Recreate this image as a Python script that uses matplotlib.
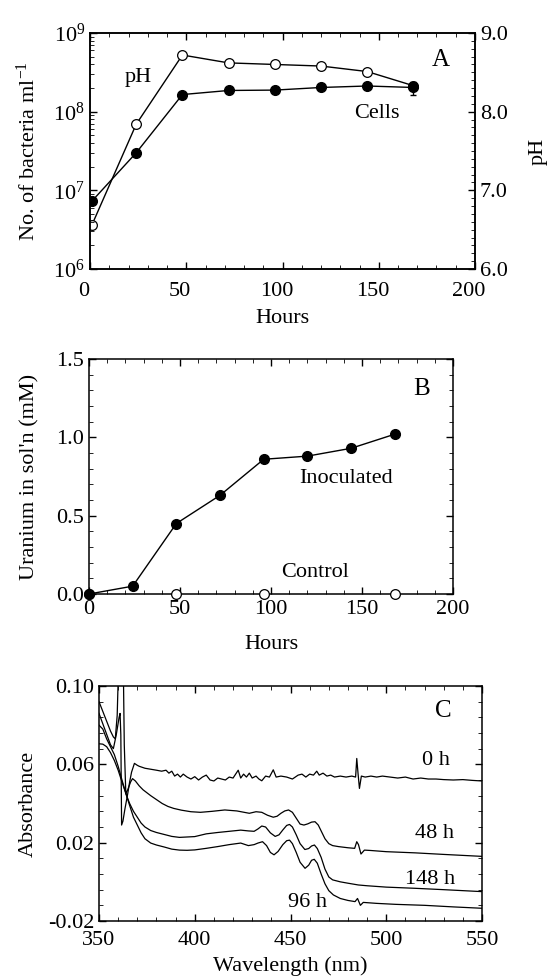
import matplotlib.pyplot as plt
import matplotlib.transforms as mtransforms
from matplotlib.ticker import (MultipleLocator, AutoMinorLocator, FormatStrFormatter, LogLocator,
                               NullFormatter, FixedLocator)

# Panel A: growth and pH
hours_a = [1, 24, 48, 72, 96, 120, 144, 168]
cells = [7.3e6, 3.0e7, 1.65e8, 1.86e8, 1.88e8, 2.03e8, 2.12e8, 2.03e8]
cells_err = [0, 0, 0, 0, 0, 0, 0, 0.38e8]
ph = [6.56, 7.84, 8.72, 8.62, 8.60, 8.58, 8.51, 8.33]

# Panel B: uranium in solution
hours_b = [0, 24, 48, 72, 96, 120, 144, 168]
uranium_inoc = [0.0, 0.05, 0.45, 0.63, 0.86, 0.88, 0.93, 1.02]
hours_ctrl = [0, 48, 96, 168]
uranium_ctrl = [0.0, 0.0, 0.0, 0.0]

# Panel C: spectra (wavelength nm, absorbance)
spec_0h = [(350, 0.086), (353, 0.078), (356, 0.070), (357.5, 0.068), (359, 0.075), (360.5, 0.084),
           (361, 0.086), (361.4, 0.075), (361.8, 0.029), (362.5, 0.031), (363.5, 0.037), (365, 0.045),
           (366, 0.051), (367, 0.056), (368.5, 0.0605), (370, 0.0595), (371, 0.059), (374, 0.058),
           (377, 0.0575), (380, 0.057), (382.7, 0.0565), (385, 0.057), (386.5, 0.0555), (388, 0.0565),
           (389.5, 0.054), (391, 0.055), (392.5, 0.0535), (394, 0.055), (396, 0.0535), (398, 0.0525),
           (400, 0.0537), (402, 0.052), (404, 0.0535), (406, 0.0545), (408, 0.052), (410, 0.0515),
           (412, 0.053), (414, 0.0525), (416, 0.052), (418, 0.0535), (420, 0.053), (422.7, 0.057),
           (424, 0.053), (425.5, 0.055), (427, 0.0535), (428.5, 0.0555), (430, 0.053), (432, 0.054),
           (433.5, 0.0525), (435, 0.0516), (437, 0.054), (439, 0.0535), (441, 0.0572), (442.5, 0.0535),
           (445, 0.054), (448, 0.0535), (451, 0.0525), (454, 0.0545), (456, 0.055), (458, 0.0535),
           (460, 0.055), (462, 0.0545), (463.7, 0.0565), (465, 0.0545), (467, 0.0555), (469, 0.054),
           (471, 0.0545), (473, 0.0535), (476, 0.054), (479, 0.0535), (482, 0.054), (484, 0.0535),
           (484.6, 0.063), (485.3, 0.055), (486, 0.0477), (487, 0.054), (489, 0.0535), (492, 0.054),
           (495, 0.0535), (498, 0.054), (502, 0.0535), (506, 0.053), (510, 0.0535), (514, 0.0525),
           (518, 0.053), (522, 0.0525), (526, 0.0525), (530, 0.0522), (535, 0.052), (540, 0.0522),
           (545, 0.0518), (550, 0.0515)]
spec_48h = [(350, 0.092), (352, 0.087), (354, 0.082), (356, 0.077), (357.5, 0.074), (358.5, 0.073),
            (359.5, 0.085), (360.2, 0.11), (361.5, 0.15), (362.7, 0.11), (363.2, 0.07), (364, 0.045),
            (365, 0.047), (366.5, 0.051), (367.5, 0.0527), (369, 0.0515), (371, 0.049), (373, 0.047),
            (375, 0.0455), (377, 0.044), (380, 0.042), (383, 0.040), (386, 0.0385), (389, 0.0375),
            (393, 0.0366), (398, 0.0358), (403, 0.0355), (409, 0.036), (415.7, 0.0367), (422, 0.0362),
            (428.5, 0.035), (432, 0.0358), (435, 0.0355), (438, 0.034), (441, 0.033), (443, 0.0335),
            (445, 0.035), (447, 0.0362), (449, 0.0367), (451, 0.0355), (453, 0.0325), (455, 0.0295),
            (457, 0.029), (459, 0.0296), (461, 0.0305), (462.8, 0.0307), (464.5, 0.029), (466, 0.026),
            (468, 0.022), (470, 0.0195), (472, 0.0185), (475, 0.018), (480, 0.0174), (483.5, 0.0171),
            (484.6, 0.0205), (485.5, 0.019), (486.8, 0.0142), (488.6, 0.0162), (492, 0.016),
            (500, 0.0154), (515, 0.0148), (530, 0.014), (550, 0.013)]
spec_96h = [(350, 0.080), (352, 0.078), (354, 0.073), (356, 0.069), (358, 0.065), (360, 0.059),
            (362, 0.052), (364.4, 0.044), (366, 0.039), (368, 0.033), (370, 0.029), (372, 0.025),
            (374, 0.022), (377, 0.0198), (380, 0.0188), (384, 0.0178), (388, 0.0167), (392, 0.0162),
            (396, 0.0161), (400, 0.0163), (406, 0.0171), (412, 0.018), (418, 0.019), (424, 0.0198),
            (428, 0.0185), (431, 0.019), (433, 0.0198), (435.4, 0.0205), (437.5, 0.0185), (439.5, 0.015),
            (441.4, 0.0138), (443.5, 0.0155), (446, 0.019), (448, 0.021), (449.5, 0.0213), (451, 0.0195),
            (453, 0.015), (455, 0.010), (457.6, 0.0069), (459.5, 0.0085), (461, 0.011), (462.4, 0.0115),
            (464, 0.0095), (466, 0.004), (468, -0.001), (470, -0.0045), (472.4, -0.0067), (476, -0.0085),
            (480, -0.0095), (483.7, -0.0101), (485, -0.0085), (486.5, -0.012), (488, -0.0105),
            (495, -0.011), (505, -0.0115), (520, -0.012), (535, -0.0128), (550, -0.0135)]
spec_148h = [(350, 0.0705), (352, 0.0703), (354, 0.069), (356, 0.066), (358, 0.062), (360, 0.057),
             (362, 0.051), (364.4, 0.044), (366, 0.040), (368, 0.036), (370, 0.033), (372, 0.030),
             (374, 0.028), (377, 0.0262), (380, 0.0252), (384, 0.0242), (388, 0.0232), (392, 0.0227),
             (396, 0.0229), (400, 0.0231), (406, 0.0245), (412, 0.0252), (418, 0.0258), (424, 0.0264),
             (428, 0.026), (431, 0.0258), (433, 0.027), (435, 0.0285), (437, 0.028), (439.5, 0.025),
             (442, 0.0232), (444, 0.024), (446, 0.0265), (448, 0.0288), (449.5, 0.0293), (451, 0.028),
             (453, 0.024), (455, 0.0195), (457.5, 0.0165), (459.5, 0.017), (461, 0.0183), (462.5, 0.0188),
             (464, 0.017), (466, 0.0125), (468, 0.0065), (470, 0.0025), (472, 0.001), (476, 0.0),
             (480, -0.0007), (485.4, -0.0016), (490, -0.002), (500, -0.0027), (515, -0.0033),
             (530, -0.004), (550, -0.005)]

plt.rcParams["font.family"] = ["Liberation Serif", "DejaVu Serif"]
plt.rcParams["mathtext.fontset"] = "custom"
plt.rcParams["mathtext.rm"] = "Liberation Serif"
plt.rcParams["mathtext.it"] = "Liberation Serif:italic"
plt.rcParams["font.size"] = 16
plt.rcParams["axes.linewidth"] = 1.1
plt.rcParams["xtick.direction"] = "in"
plt.rcParams["ytick.direction"] = "in"
plt.rcParams["xtick.major.size"] = 5
plt.rcParams["ytick.major.size"] = 5
plt.rcParams["xtick.minor.size"] = 2.8
plt.rcParams["ytick.minor.size"] = 2.8
plt.rcParams["xtick.major.width"] = 1
plt.rcParams["ytick.major.width"] = 1

fig = plt.figure(figsize=(5.5, 9.8), dpi=100)

# ---- Panel A
ax_a = fig.add_axes([90 / 550, 1 - 269 / 980, 385 / 550, 236 / 980])
ax_ph = ax_a.twinx()
ax_a.set_zorder(ax_ph.get_zorder() + 1)
ax_a.patch.set_visible(False)

ax_ph.plot(hours_a, ph, "o-", color="black", mfc="white", mec="black", ms=7, mew=0.9, lw=1)
ax_a.errorbar(hours_a, cells, yerr=cells_err, fmt="o-", color="black", ms=7, lw=1,
              capsize=2, elinewidth=1)

ax_a.set_yscale("log")
ax_a.set_xlim(0, 200)
ax_a.set_ylim(1e6, 1e9)
ax_ph.set_ylim(6.0, 9.0)
ax_a.xaxis.set_major_locator(MultipleLocator(50))
ax_a.xaxis.set_minor_locator(MultipleLocator(10))
ax_a.yaxis.set_major_locator(LogLocator(base=10, numticks=10))
ax_a.yaxis.set_minor_locator(LogLocator(base=10, subs=range(2, 10), numticks=20))
ax_a.yaxis.set_minor_formatter(NullFormatter())
ax_ph.yaxis.set_major_locator(MultipleLocator(1.0))
ax_ph.yaxis.set_minor_locator(MultipleLocator(0.1))
ax_ph.yaxis.set_major_formatter(FormatStrFormatter("%.1f"))
ax_a.tick_params(which="both", top=True, right=False)
ax_a.tick_params(axis="x", which="major", pad=9)
ax_a.set_xlabel("Hours", labelpad=0)
ax_a.set_ylabel(r"No. of bacteria ml$^{-1}$")
ax_ph.set_ylabel("pH")
ax_a.yaxis.set_label_coords(-0.13, 0.5)
ax_ph.yaxis.set_label_coords(1.14, 0.5)
ax_a.xaxis.set_label_coords(0.5, -0.17)
ax_a.text(25, 2.7e8, "pH", ha="center", va="center")
ax_a.text(149, 9.5e7, "Cells", ha="center", va="center")
ax_a.text(182, 4.5e8, "A", ha="center", va="center", fontsize=18)

# x tick labels of panel A sit a little left of their ticks in the original
shift = mtransforms.ScaledTranslation(-6 / 100, 0, fig.dpi_scale_trans)
for lab in ax_a.get_xticklabels():
    lab.set_transform(lab.get_transform() + shift)

# ---- Panel B
ax_b = fig.add_axes([89 / 550, 1 - 594 / 980, 364 / 550, 235 / 980])
ax_b.plot(hours_b, uranium_inoc, "o-", color="black", ms=7, lw=1, clip_on=False, zorder=4)
ax_b.plot(hours_ctrl, uranium_ctrl, "o", color="black", mfc="white", mec="black", ms=7, mew=0.9,
          clip_on=False, zorder=3)
ax_b.set_xlim(0, 200)
ax_b.set_ylim(0, 1.5)
ax_b.xaxis.set_major_locator(MultipleLocator(50))
ax_b.xaxis.set_minor_locator(MultipleLocator(10))
ax_b.yaxis.set_major_locator(MultipleLocator(0.5))
ax_b.yaxis.set_minor_locator(MultipleLocator(0.1))
ax_b.yaxis.set_major_formatter(FormatStrFormatter("%.1f"))
ax_b.tick_params(which="both", top=True, right=True)
ax_b.tick_params(axis="x", which="major", pad=4)
ax_b.set_xlabel("Hours")
ax_b.set_ylabel("Uranium in sol'n (mM)")
ax_b.yaxis.set_label_coords(-0.135, 0.5)
ax_b.xaxis.set_label_coords(0.5, -0.175)
ax_b.text(141, 0.74, "Inoculated", ha="center", va="center")
ax_b.text(124, 0.14, "Control", ha="center", va="center")
ax_b.text(183, 1.31, "B", ha="center", va="center", fontsize=18)

# ---- Panel C
ax_c = fig.add_axes([99 / 550, 1 - 921 / 980, 383 / 550, 235 / 980])
for spec in (spec_0h, spec_48h, spec_96h, spec_148h):
    wl, ab = zip(*spec)
    ax_c.plot(wl, ab, color="black", lw=0.9)
ax_c.set_xlim(350, 550)
ax_c.set_ylim(-0.02, 0.10)
ax_c.xaxis.set_major_locator(MultipleLocator(50))
ax_c.xaxis.set_minor_locator(MultipleLocator(10))
ax_c.yaxis.set_major_locator(FixedLocator([-0.02, 0.02, 0.06, 0.10]))
ax_c.yaxis.set_minor_locator(AutoMinorLocator(5))
ax_c.yaxis.set_major_formatter(FormatStrFormatter("%.2f"))
ax_c.tick_params(which="both", top=True, right=True)
ax_c.tick_params(axis="x", which="major", pad=7)
ax_c.set_xlabel("Wavelength (nm)")
ax_c.set_ylabel("Absorbance")
ax_c.yaxis.set_label_coords(-0.16, 0.5)
ax_c.xaxis.set_label_coords(0.5, -0.15)
ax_c.text(526, 0.062, "0 h", ha="center", va="center")
ax_c.text(525, 0.0247, "48 h", ha="center", va="center")
ax_c.text(523, 0.0013, "148 h", ha="center", va="center")
ax_c.text(459, -0.0107, "96 h", ha="center", va="center")
ax_c.text(530, 0.087, "C", ha="center", va="center", fontsize=18)

fig.savefig("out.png", dpi=100)
